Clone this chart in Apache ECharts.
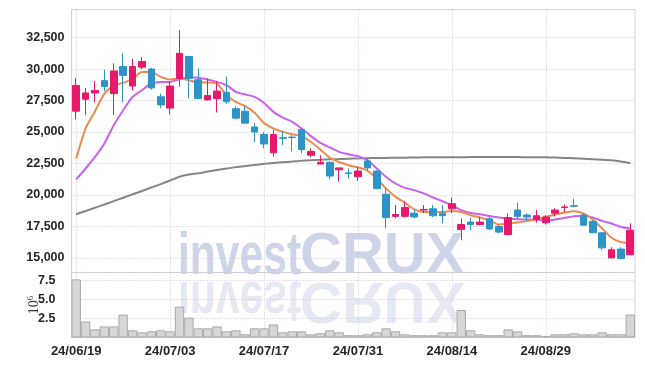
<!DOCTYPE html>
<html>
<head>
<meta charset="utf-8">
<script src="https://cdn.jsdelivr.net/npm/echarts@6/dist/echarts.min.js"></script>
<style>
html,body{margin:0;padding:0;background:#fff;}
#chart{width:645px;height:366px;}
</style>
</head>
<body>
<div id="chart"></div>
<script>
const dates = ['24/06/19','24/06/20','24/06/21','24/06/24','24/06/25','24/06/26','24/06/27','24/06/28',
'24/07/01','24/07/02','24/07/03','24/07/04','24/07/05','24/07/08','24/07/09','24/07/10','24/07/11','24/07/12',
'24/07/15','24/07/16','24/07/17','24/07/18','24/07/19','24/07/22','24/07/23','24/07/24','24/07/25','24/07/26',
'24/07/29','24/07/30','24/07/31','24/08/01','24/08/02','24/08/05','24/08/06','24/08/07','24/08/08','24/08/09',
'24/08/12','24/08/13','24/08/14','24/08/16','24/08/19','24/08/20','24/08/21','24/08/22','24/08/23','24/08/26',
'24/08/27','24/08/28','24/08/29','24/08/30','24/09/02','24/09/03','24/09/04','24/09/05','24/09/06','24/09/09',
'24/09/10','24/09/11'];

const opens  = [26650,27600,28100,29100,28050,30200,28650,30150,30000,27800,26900,29250,31000,29150,27550,27650,28150,26850,26650,25400,24800,23350,24550,24600,25200,23150,22450,22600,22000,21750,21450,22700,21900,20050,18300,18300,18550,18800,18900,18550,18900,17250,17850,17650,18100,17500,16850,18800,18400,18050,17800,18550,19000,19150,18400,17900,17000,15000,15700,15250];
const closes = [28700,28100,28300,28600,29850,29500,30200,30600,28500,27150,28650,31250,29250,27650,27900,28250,27400,26100,25700,25000,24050,24800,24500,24550,23600,23450,22600,21500,22150,21700,21900,22150,20500,18200,18450,19000,18250,18850,18350,18350,19300,17650,17650,17850,17300,17050,18200,18300,18250,18350,18250,18800,19050,19100,17600,17000,15800,15650,14950,17200];
const lows   = [26000,26350,27350,28250,26350,27350,28300,30000,28350,26900,26400,28600,27650,27650,27500,26550,27250,26000,25650,24200,23700,23050,23950,23450,23300,23000,22450,21250,21050,21300,21100,21950,20450,17350,18150,18200,18150,18550,18250,17750,18550,16400,17200,17600,17200,16950,16800,18050,17900,17800,17650,18300,18650,19000,17550,16950,15650,15000,14900,15200];
const highs  = [29300,28500,29050,29950,30450,31250,30800,30950,30100,28050,29000,33100,31050,30050,29250,29000,29400,27050,27050,25700,25000,25150,25100,24750,25300,23700,23150,22650,22150,22100,22200,22900,21950,20500,19200,19500,18800,19200,19200,19200,19800,18150,18200,18250,18250,17600,18550,19400,18550,18800,18400,18950,19250,19700,18550,18000,17050,15850,15850,17750];
const volumes = [7.6,2.1,1.07,1.45,1.45,3.0,0.94,0.68,0.81,0.94,0.81,4.03,2.6,1.2,1.2,1.45,0.81,0.94,0.42,1.2,1.2,1.71,0.68,0.81,0.81,0.42,0.55,0.94,0.68,0.3,0.3,0.42,0.68,1.2,0.81,0.42,0.3,0.3,0.3,0.68,0.68,3.6,0.94,0.42,0.3,0.3,1.07,0.81,0.3,0.3,0.2,0.42,0.42,0.55,0.42,0.42,0.68,0.42,0.42,3.0];
const maShort = [22890,25280,26650,28050,28720,28900,29250,29770,29770,29380,29170,29250,29110,28930,28930,28850,27920,27390,27050,26520,25720,25280,25010,24820,24670,24210,23610,22970,22620,22360,22200,21930,21300,20500,19850,19380,18850,18650,18650,18650,18730,18650,18390,18210,17990,17650,17730,17810,17920,18050,18260,18450,18600,18710,18530,18050,17340,16600,16250,16170];
const maMid = [21230,22100,23020,24090,25540,26730,27790,28320,28850,28980,28980,29190,29350,29300,29170,28980,28720,28190,27980,27790,27310,26600,26150,25800,25280,24670,24130,23770,23420,23230,23080,22760,22100,21430,20910,20560,20380,20120,19800,19500,19190,18790,18570,18470,18320,18210,18130,18070,18050,18050,17940,18050,18180,18310,18340,18210,17940,17730,17460,17340];
const maLong = [18470,18730,18980,19240,19510,19780,20050,20310,20590,20860,21150,21450,21630,21730,21860,21980,22100,22210,22290,22380,22470,22540,22600,22650,22710,22750,22790,22830,22850,22875,22900,22920,22930,22940,22950,22960,22970,22985,22990,23000,23000,23000,23005,23010,23010,23010,23010,23005,23000,22995,22985,22970,22940,22910,22880,22840,22800,22750,22650,22510];
const priceTicks = [15000,17500,20000,22500,25000,27500,30000,32500];
const volumeTicks = [2.5,5.0,7.5];
const dateTicks = ['24/06/19','24/07/03','24/07/17','24/07/31','24/08/14','24/08/29'];

const UP = '#e8196c', DOWN = '#2e94c8';
const fontFam = '"Liberation Sans",Arial,sans-serif';
const labelFont = {color:'#262626', fontFamily:fontFam, fontWeight:'bold'};
const gridLine = {type:[1,2], color:'#c3c8dc', width:1};

const candleData = dates.map((d,i)=>[opens[i],closes[i],lows[i],highs[i]]);

const chart = echarts.init(document.getElementById('chart'), null, {renderer:'canvas'});
const wmColor = '#cfd5e9', wmRef = '#e6e9f3';
chart.setOption({
  animation:false,
  backgroundColor:'#fff',
  graphic:[
    {type:'text', x:178, y:257, scaleX:0.71, z:0, silent:true, style:{text:'invest', font:'bold 60px "Liberation Sans"', fill:wmColor, verticalAlign:'middle'}},
    {type:'text', x:300, y:257, z:0, silent:true, style:{text:'CRUX', font:'bold 58px "Liberation Sans"', fill:wmColor, verticalAlign:'middle'}},
    {type:'text', x:178, y:299, scaleX:0.71, scaleY:-1, z:0, silent:true, style:{text:'invest', font:'bold 60px "Liberation Sans"', fill:wmRef, verticalAlign:'middle'}},
    {type:'text', x:300, y:299, scaleY:-1, z:0, silent:true, style:{text:'CRUX', font:'bold 58px "Liberation Sans"', fill:wmRef, verticalAlign:'middle'}}
  ],
  grid:[
    {left:71.5, right:10, top:9.5, height:263, show:true, borderColor:'#d3d3d3', borderWidth:1, backgroundColor:'transparent'},
    {left:71.5, right:10, top:272.5, height:65, show:true, borderColor:'#d3d3d3', borderWidth:1, backgroundColor:'transparent'}
  ],
  xAxis:[
    {type:'category', data:dates, gridIndex:0, boundaryGap:true, axisLine:{show:false}, axisTick:{show:false}, axisLabel:{show:false}, splitLine:{show:false}},
    {type:'category', data:dates, gridIndex:1, boundaryGap:true, axisLine:{show:false}, axisTick:{show:false},
     axisLabel:Object.assign({interval:9, margin:7, fontSize:13}, labelFont), splitLine:{show:false}}
  ],
  yAxis:[
    {type:'value', gridIndex:0, min:13840, max:34730, axisLine:{show:false}, axisTick:{show:false}, splitLine:{show:false},
     axisLabel:Object.assign({customValues:priceTicks, margin:7, fontSize:12.5, formatter:v=>v.toLocaleString('en-US')}, labelFont)},
    {type:'value', gridIndex:1, min:0, max:8.5, interval:2.5, axisLine:{show:false}, axisTick:{show:false},
     splitLine:{show:true, lineStyle:gridLine},
     axisLabel:Object.assign({margin:16, fontSize:12.5, showMinLabel:false, showMaxLabel:false, formatter:v=>(volumeTicks.indexOf(v)>=0? v.toFixed(1):'')}, labelFont),
     name:'{a|10}{b|6}', nameLocation:'middle', nameRotate:90, nameGap:29, nameMoveOverlap:false,
     nameTextStyle:{rich:{a:{fontFamily:'"Liberation Serif",serif', fontSize:14, color:'#333'}, b:{fontFamily:'"Liberation Serif",serif', fontSize:9, color:'#333', verticalAlign:'top', padding:[0,0,7,0]}}}}
  ],
  series:[
    {type:'line', name:'MA long', xAxisIndex:0, yAxisIndex:0, data:maLong, symbol:'none', smooth:0.2, lineStyle:{color:'#858585', width:2}, z:3},
    {type:'line', name:'MA mid', xAxisIndex:0, yAxisIndex:0, data:maMid, symbol:'none', smooth:0.2, lineStyle:{color:'#c862ee', width:2}, z:3},
    {type:'line', name:'MA short', xAxisIndex:0, yAxisIndex:0, data:maShort, symbol:'none', smooth:0.2, lineStyle:{color:'#ee8a4e', width:2}, z:3},
    {type:'candlestick', xAxisIndex:0, yAxisIndex:0, data:candleData, barWidth:'76%', z:4,
     itemStyle:{color:UP, color0:DOWN, borderColor:UP, borderColor0:DOWN, borderWidth:1},
     markLine:{silent:true, symbol:'none', label:{show:false}, lineStyle:gridLine, z:1,
       data:priceTicks.map(v=>({yAxis:v})).concat(dateTicks.map(d=>({xAxis:d})))}},
    {type:'bar', xAxisIndex:1, yAxisIndex:1, data:volumes, barCategoryGap:'0%', z:4,
     itemStyle:{color:'#d6d6d6', borderColor:'#a9a9a9', borderWidth:1},
     markLine:{silent:true, symbol:'none', label:{show:false}, lineStyle:gridLine, z:1,
       data:dateTicks.map(d=>({xAxis:d}))}}
  ]
});
</script>
</body>
</html>
